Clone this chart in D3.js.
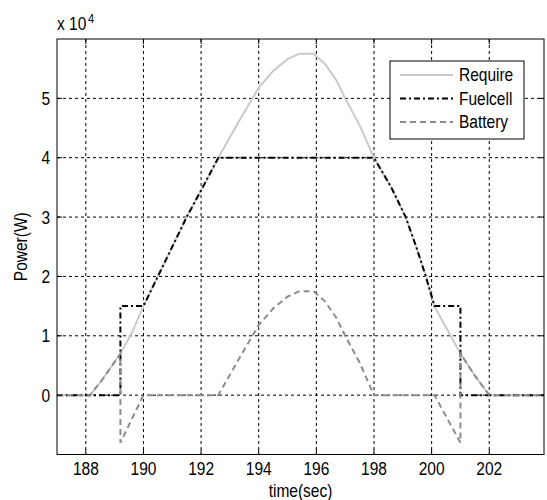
<!DOCTYPE html>
<html>
<head>
<meta charset="utf-8">
<script src="https://cdn.jsdelivr.net/npm/d3@7"></script>
<style>
  body { margin: 0; background: #fff; }
  text { font-family: "Liberation Sans", Arial, Helvetica, sans-serif; fill: #000; }
</style>
</head>
<body>
<svg id="chart" width="547" height="500"></svg>
<script>
/* DATA */
const xTicks = [188, 190, 192, 194, 196, 198, 200, 202];
const yTicks = [0, 10000, 20000, 30000, 40000, 50000];
const seriesNames = ["Require", "Fuelcell", "Battery"];

const requireTime  = [187, 188.15, 188.6, 189.2, 189.6, 190.0, 190.5, 191.0, 191.5, 192.0, 192.6, 193.3, 194.0, 194.5, 195.0, 195.4, 195.9, 196.3, 196.7, 197.0, 197.5, 198.0, 198.6, 199.1, 199.5, 199.8, 200.1, 200.6, 201.0, 201.5, 202.0, 203.9];
const requirePower = [0, 0, 2800, 7000, 10500, 15000, 20000, 25000, 30000, 34500, 40000, 46000, 51800, 54600, 56600, 57500, 57500, 55800, 53000, 50000, 45500, 40000, 35000, 30000, 24500, 20000, 15000, 10500, 7000, 3300, 0, 0];

const fuelTime  = [187, 189.2, 189.2, 190.0, 190.5, 191.0, 191.5, 192.0, 192.6, 198.0, 198.6, 199.1, 199.5, 199.8, 200.1, 201.0, 201.0, 203.9];
const fuelPower = [0, 0, 15000, 15000, 20000, 25000, 30000, 34500, 40000, 40000, 35000, 30000, 24500, 20000, 15000, 15000, 0, 0];

const batteryTime  = [187, 188.15, 188.6, 189.2, 189.2, 190.0, 192.6, 193.3, 194.0, 194.5, 195.0, 195.4, 195.9, 196.3, 196.7, 197.0, 197.5, 198.0, 200.1, 201.0, 201.0, 201.5, 202.0, 203.9];
const batteryPower = [0, 0, 2800, 7000, -8000, 0, 0, 6000, 11800, 14600, 16600, 17500, 17500, 15800, 13000, 10000, 5500, 0, 0, -8000, 7000, 3300, 0, 0];

/* LAYOUT */
const svg = d3.select("#chart");
const plot = { left: 57, right: 544, top: 39, bottom: 454.5 };
const stretch = 1.19;   // text in the picture is drawn narrow / tall
const fontSize = 15.5;

const x = d3.scaleLinear().domain([187, 203.9]).range([plot.left, plot.right]);
const y = d3.scaleLinear().domain([-10000, 60000]).range([plot.bottom, plot.top]);

svg.append("rect").attr("width", 547).attr("height", 500).attr("fill", "#fff");

// helper for the tall text
function label(parent, px, py, str, anchor, rot) {
  return parent.append("text")
    .attr("transform", `translate(${px},${py}) rotate(${rot || 0}) scale(1,${stretch})`)
    .attr("text-anchor", anchor || "start")
    .style("font-size", fontSize + "px")
    .text(str);
}

/* GRID */
const grid = svg.append("g");
grid.selectAll(".vgrid").data(xTicks).join("line")
  .attr("x1", d => x(d)).attr("x2", d => x(d))
  .attr("y1", plot.top).attr("y2", plot.bottom)
  .attr("stroke", "#000").attr("stroke-width", 1)
  .attr("stroke-dasharray", "3,3");
grid.selectAll(".hgrid").data(yTicks).join("line")
  .attr("x1", plot.left).attr("x2", plot.right)
  .attr("y1", d => y(d)).attr("y2", d => y(d))
  .attr("stroke", "#000").attr("stroke-width", 1)
  .attr("stroke-dasharray", "3,3");

/* LINES */
const line = d3.line().x(d => x(d[0])).y(d => y(d[1]));
const lines = svg.append("g");

lines.append("path")
  .datum(d3.zip(requireTime, requirePower))
  .attr("d", line).attr("fill", "none")
  .attr("stroke", "#cacaca").attr("stroke-width", 2);

lines.append("path")
  .datum(d3.zip(fuelTime, fuelPower))
  .attr("d", line).attr("fill", "none")
  .attr("stroke", "#000").attr("stroke-width", 2)
  .attr("stroke-dasharray", "6,3,2,3");

lines.append("path")
  .datum(d3.zip(batteryTime, batteryPower))
  .attr("d", line).attr("fill", "none")
  .attr("stroke", "#8c8c8c").attr("stroke-width", 2)
  .attr("stroke-dasharray", "6,4");

/* AXES BOX + TICKS */
svg.append("rect")
  .attr("x", plot.left).attr("y", plot.top)
  .attr("width", plot.right - plot.left).attr("height", plot.bottom - plot.top)
  .attr("fill", "none").attr("stroke", "#000").attr("stroke-width", 1);

const tickLen = 5;
const ticks = svg.append("g").attr("stroke", "#000");
xTicks.forEach(t => {
  ticks.append("line").attr("x1", x(t)).attr("x2", x(t)).attr("y1", plot.bottom).attr("y2", plot.bottom - tickLen);
  ticks.append("line").attr("x1", x(t)).attr("x2", x(t)).attr("y1", plot.top).attr("y2", plot.top + tickLen);
  label(svg, x(t), 475, t, "middle");
});
yTicks.forEach(t => {
  ticks.append("line").attr("x1", plot.left).attr("x2", plot.left + tickLen).attr("y1", y(t)).attr("y2", y(t));
  ticks.append("line").attr("x1", plot.right).attr("x2", plot.right - tickLen).attr("y1", y(t)).attr("y2", y(t));
  label(svg, 50, y(t) + 6.5, t / 10000, "end");
});

// exponent label
label(svg, 57, 30, "x 10", "start");
svg.append("text")
  .attr("transform", `translate(88,23) scale(1,${stretch})`)
  .style("font-size", "11px")
  .text("4");

// axis titles
label(svg, (plot.left + plot.right) / 2, 497, "time(sec)", "middle");
label(svg, 27, (plot.top + plot.bottom) / 2, "Power(W)", "middle", -90);

/* LEGEND */
const legend = svg.append("g");
legend.append("rect")
  .attr("x", 390).attr("y", 61).attr("width", 134).attr("height", 78)
  .attr("fill", "#fff").attr("stroke", "#000").attr("stroke-width", 1);

const legendStyles = [
  { color: "#cacaca", dash: null },
  { color: "#000", dash: "6,3,2,3" },
  { color: "#8c8c8c", dash: "6,4" }
];
seriesNames.forEach((name, i) => {
  const ly = 75 + i * 23.5;
  legend.append("line")
    .attr("x1", 400).attr("x2", 453).attr("y1", ly).attr("y2", ly)
    .attr("stroke", legendStyles[i].color).attr("stroke-width", 2)
    .attr("stroke-dasharray", legendStyles[i].dash);
  label(legend, 459, ly + 6, name, "start");
});
</script>
</body>
</html>
